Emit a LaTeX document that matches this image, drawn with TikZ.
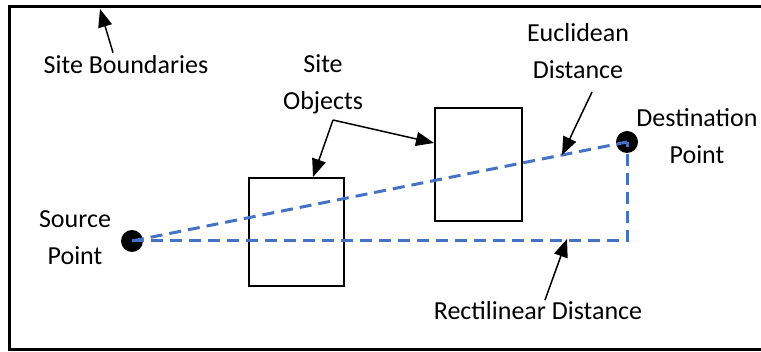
\documentclass[tikz,border=0pt]{standalone}
\usepackage{fontspec}
\setmainfont{Carlito}
\usetikzlibrary{positioning,arrows.meta}
\definecolor{distblue}{RGB}{68,114,196}

\begin{document}
\begin{tikzpicture}[x=1pt, y=-1pt,
  obj/.style={draw, line width=2.6pt, inner sep=0pt},
  pt/.style={circle, fill=black, minimum size=22pt, inner sep=0pt},
  lab/.style={font=\fontsize{26}{37}\selectfont, align=center, inner sep=0pt},
  dist/.style={distblue, line width=3pt, dash pattern=on 12pt off 7pt},
  call/.style={-{Triangle[length=18pt, width=14pt]}, line width=1.5pt},
  >=stealth]
\useasboundingbox (0,0) rectangle (761,352);
% site boundary, open on the right
\draw[line width=3pt] (780,7) -- (9,7) -- (9,350) -- (780,350);
% objects on the site
\node[obj, minimum width=95pt, minimum height=108pt] (obj1) at (296.5,232) {};
\node[obj, minimum width=87pt, minimum height=113pt] (obj2) at (478.5,164.5) {};
% the two points
\node[pt] (src) at (132,241) {};
\node[pt] (dst) at (627,142) {};
\node[lab] (srclab) at (75,238) {Source\\Point};
\node[lab] (dstlab) at (697,136) {Destination\\Point};
% euclidean and rectilinear paths
\draw[dist] (src.center) -- (dst.center);
\draw[dist] (src.center) -- (src.center -| dst.center) -- (dst.center);
% labels with their pointers
\node[lab] (bound) at (126,65) {Site Boundaries};
\coordinate (edge) at (100,9);
\draw[call] (bound.north) ++(-13,-3) coordinate (b0) -- (edge);
\node[lab] (objs) at (323,84) {Site\\Objects};
\coordinate (fork) at (333,120);
\coordinate (tip1) at (313,177);
\coordinate (tip2) at (434,143);
\draw[call] (fork) -- (tip1);
\draw[call] (fork) -- (tip2);
\node[lab] (eucl) at (578,51) {Euclidean\\Distance};
\coordinate (e0) at (592,92);
\coordinate (e1) at (562,155);
\draw[call] (e0) -- (e1);
\node[lab] (rect) at (538,311) {Rectilinear Distance};
\coordinate (r0) at (545,300);
\coordinate (r1) at (567,239);
\draw[call] (r0) -- (r1);
\end{tikzpicture}
\end{document}
